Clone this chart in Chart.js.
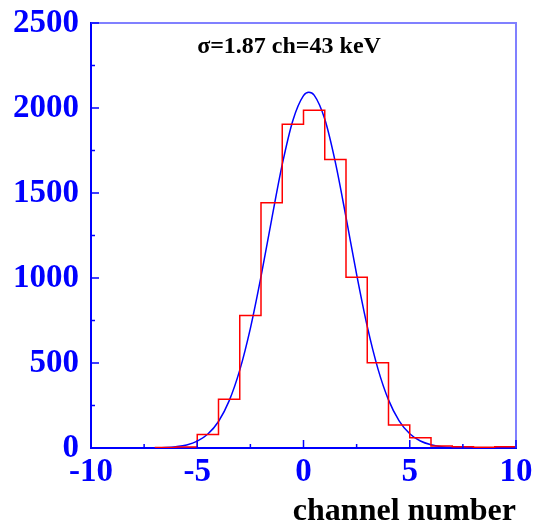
<!DOCTYPE html>
<html>
<head>
<meta charset="UTF-8">
<title>channel resolution</title>
<script src="https://cdn.jsdelivr.net/npm/chart.js"></script>
<style>
    html, body { margin: 0; padding: 0; background: white; }
    #wrap { width: 533px; height: 525px; }
</style>
</head>
<body>
<div id="wrap"><canvas id="chart"></canvas></div>
<script>
    // histogram: left bin edges and counts (last edge closes the final bin)
    const binEdges = [-7, -6, -5, -4, -3, -2, -1, 0, 1, 2, 3, 4, 5, 6, 7, 8, 9, 10];
    const binCounts = [3, 6, 79, 287, 779, 1442, 1905, 1987, 1697, 1005, 501, 136, 60, 12, 8, 4, 8, 8];

    // fitted curve
    const fitX = [-8, -7.5, -7, -6.5, -6, -5.5, -5, -4.5, -4, -3.5, -3, -2.5, -2, -1.5, -1, -0.5, 0, 0.25, 0.5, 1, 1.5, 2, 2.5, 3, 3.5, 4, 4.5, 5, 5.5, 6, 6.5, 7, 7.5, 8, 8.5, 9, 9.5, 10];
    const fitY = [0.1, 0.4, 1.1, 3, 8, 18, 40, 82, 156, 277, 458, 704, 1008, 1344, 1668, 1927, 2073, 2093, 2076, 1935, 1680, 1358, 1021, 715, 467, 283, 160, 84, 41, 19, 8, 3, 1.2, 0.4, 0.1, 0, 0, 0];

    const xMajor = [-10, -5, 0, 5, 10];
    const xMinor = [-7.5, -2.5, 2.5, 7.5];
    const yMajor = [0, 500, 1000, 1500, 2000, 2500];
    const yMinor = [250, 750, 1250, 1750, 2250];

    const label = 'σ=1.87 ch=43 keV';
    const serif = '"Liberation Serif", "Times New Roman", serif';

    const histo = binEdges.map((x, i) => ({ x: x, y: binCounts[i] }));
    const fit = fitX.map((x, i) => ({ x: x, y: fitY[i] }));

    // frame on top/right, inner tick marks, sigma text
    const framePlugin = {
        id: 'frame',
        afterDraw(chart) {
            const ctx = chart.ctx;
            const a = chart.chartArea;
            const xs = chart.scales.x, ys = chart.scales.y;
            ctx.save();
            ctx.strokeStyle = '#8080ff';
            ctx.lineWidth = 2;
            ctx.beginPath();
            ctx.moveTo(a.left, a.top);
            ctx.lineTo(a.right, a.top);
            ctx.lineTo(a.right, a.bottom);
            ctx.stroke();

            ctx.strokeStyle = '#0000ff';
            ctx.lineWidth = 1.5;
            ctx.beginPath();
            xMajor.forEach(v => { const p = xs.getPixelForValue(v); ctx.moveTo(p, a.bottom); ctx.lineTo(p, a.bottom - 8); });
            xMinor.forEach(v => { const p = xs.getPixelForValue(v); ctx.moveTo(p, a.bottom); ctx.lineTo(p, a.bottom - 4); });
            yMajor.forEach(v => { const p = ys.getPixelForValue(v); ctx.moveTo(a.left, p); ctx.lineTo(a.left + 8, p); });
            yMinor.forEach(v => { const p = ys.getPixelForValue(v); ctx.moveTo(a.left, p); ctx.lineTo(a.left + 4, p); });
            ctx.stroke();

            ctx.fillStyle = '#000';
            ctx.font = 'bold 24px ' + serif;
            ctx.textAlign = 'center';
            ctx.textBaseline = 'alphabetic';
            ctx.fillText(label, 289, 53);
            ctx.restore();
        }
    };

    new Chart(document.getElementById('chart'), {
        type: 'scatter',
        data: {
            datasets: [
                {
                    label: 'counts',
                    data: histo,
                    showLine: true,
                    stepped: 'before',
                    borderColor: '#ff0000',
                    borderWidth: 1.5,
                    pointRadius: 0,
                    fill: false
                },
                {
                    label: 'fit',
                    data: fit,
                    showLine: true,
                    cubicInterpolationMode: 'monotone',
                    borderColor: '#0000ff',
                    borderWidth: 1.5,
                    pointRadius: 0,
                    fill: false
                }
            ]
        },
        options: {
            responsive: true,
            maintainAspectRatio: false,
            animation: false,
            layout: { padding: { top: 23, right: 17, left: 0, bottom: 0 } },
            plugins: {
                legend: { display: false },
                tooltip: { enabled: false }
            },
            scales: {
                x: {
                    type: 'linear',
                    min: -10,
                    max: 10,
                    afterFit: s => { s.height = 77; s.paddingLeft = 0; s.paddingRight = 0; },
                    grid: { display: false, drawTicks: false },
                    border: { color: '#0000ff', width: 2 },
                    ticks: {
                        stepSize: 5,
                        color: '#0000ff',
                        padding: 5,
                        maxRotation: 0,
                        font: { family: serif, size: 33, weight: 'bold' }
                    },
                    title: {
                        display: true,
                        text: 'channel number',
                        align: 'end',
                        color: '#000',
                        padding: { top: 0, bottom: 0 },
                        font: { family: serif, size: 32, weight: 'bold', lineHeight: 0.8 }
                    }
                },
                y: {
                    min: 0,
                    max: 2500,
                    afterFit: s => { s.width = 91; s.paddingTop = 0; s.paddingBottom = 0; },
                    grid: { display: false, drawTicks: false },
                    border: { color: '#0000ff', width: 2 },
                    ticks: {
                        stepSize: 500,
                        color: '#0000ff',
                        padding: 12,
                        callback: v => String(v),
                        font: { family: serif, size: 33, weight: 'bold' }
                    }
                }
            }
        },
        plugins: [framePlugin]
    });
</script>
</body>
</html>
